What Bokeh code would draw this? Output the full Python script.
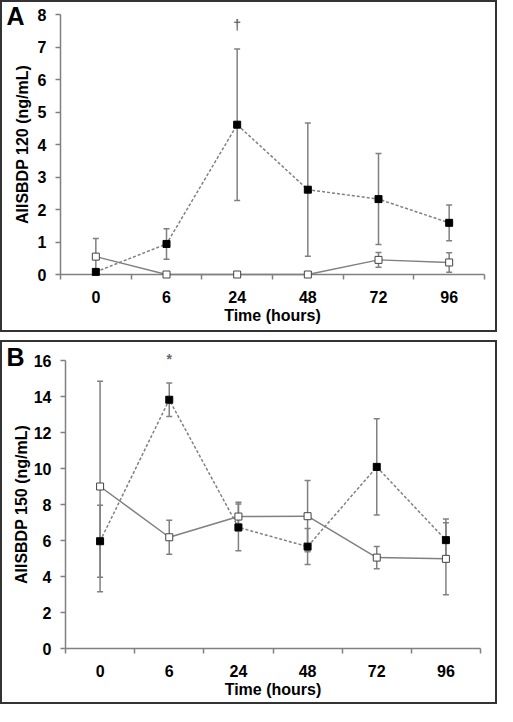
from bokeh.plotting import figure
from bokeh.models import Range1d, FixedTicker, Whisker, TeeHead, ColumnDataSource
from bokeh.layouts import column
from bokeh.embed import file_html
from bokeh.resources import INLINE
from bokeh.core.properties import value

# ---------------- data ----------------
time_labels = ["0", "6", "24", "48", "72", "96"]

# Panel A: AIISBDP 120 (ng/mL)
a_filled = [0.08, 0.94, 4.61, 2.61, 2.32, 1.59]
a_filled_err = [0.0, 0.47, 2.33, 2.05, 1.40, 0.55]
a_open = [0.55, 0.0, 0.0, 0.0, 0.45, 0.37]
a_open_err = [0.56, 0.0, 0.0, 0.0, 0.23, 0.30]

# Panel B: AIISBDP 150 (ng/mL)
b_filled = [5.96, 13.82, 6.73, 5.66, 10.09, 6.02]
b_filled_err = [2.0, 0.93, 1.3, 1.0, 2.68, 1.18]
b_open = [9.0, 6.18, 7.33, 7.35, 5.05, 4.98]
b_open_err = [5.85, 0.95, 0.8, 1.98, 0.62, 2.0]

a_mark = "\u2020"   # dagger at 24 h
a_mark_index = 2
b_mark = "*"        # asterisk at 6 h
b_mark_index = 1

# ---------------- style ----------------
FONT = "Liberation Sans"
GRAY = "#808080"
W = 497


def make_panel(h, left, right, top, zero_y, y_max, y_step, ylabel,
               filled, filled_err, opn, opn_err, ylabel_standoff, xlabel_standoff):
    pxu = (zero_y - top) / y_max
    n = len(time_labels)
    p = figure(width=W, height=h,
               x_range=Range1d(0.5, n + 0.5), y_range=Range1d(0, y_max),
               output_backend="svg", toolbar_location=None,
               min_border_left=left, min_border_right=W - right,
               min_border_top=top, min_border_bottom=int(round(h - zero_y)))
    p.background_fill_color = None
    p.border_fill_color = None
    p.outline_line_color = None
    p.grid.visible = False

    xs = [i + 1 for i in range(n)]

    # x axis: labels at category centres, tick marks at boundaries
    xa = p.xaxis[0]
    xa.ticker = FixedTicker(ticks=xs, minor_ticks=[i + 0.5 for i in range(n + 1)])
    xa.major_label_overrides = {x: lab for x, lab in zip(xs, time_labels)}
    xa.axis_line_color = GRAY
    xa.axis_line_width = 1.5
    xa.major_tick_line_color = None
    xa.major_tick_out = 0
    xa.major_tick_in = 0
    xa.minor_tick_line_color = GRAY
    xa.minor_tick_line_width = 1.5
    xa.minor_tick_out = 5
    xa.minor_tick_in = 0
    xa.major_label_standoff = 11
    xa.major_label_text_font = FONT
    xa.major_label_text_font_style = "bold"
    xa.major_label_text_font_size = "16px"
    xa.major_label_text_color = "black"
    xa.axis_label = "Time (hours)"
    xa.axis_label_text_font = FONT
    xa.axis_label_text_font_style = "bold"
    xa.axis_label_text_font_size = "16px"
    xa.axis_label_text_color = "black"
    xa.axis_label_standoff = xlabel_standoff

    ya = p.yaxis[0]
    ya.ticker = FixedTicker(ticks=list(range(0, int(y_max) + 1, y_step)))
    ya.axis_line_color = GRAY
    ya.axis_line_width = 1.5
    ya.major_tick_line_color = GRAY
    ya.major_tick_line_width = 1.5
    ya.major_tick_out = 5
    ya.major_tick_in = 0
    ya.minor_tick_line_color = None
    ya.major_label_standoff = 9
    ya.major_label_text_font = FONT
    ya.major_label_text_font_style = "bold"
    ya.major_label_text_font_size = "16px"
    ya.major_label_text_color = "black"
    ya.axis_label = ylabel
    ya.axis_label_text_font = FONT
    ya.axis_label_text_font_style = "bold"
    ya.axis_label_text_font_size = "16px"
    ya.axis_label_text_color = "black"
    ya.axis_label_standoff = ylabel_standoff

    head = dict(size=6, line_color=GRAY, line_width=1.5)
    for vals, errs in ((filled, filled_err), (opn, opn_err)):
        src = ColumnDataSource(dict(x=xs,
                                    upper=[v + e for v, e in zip(vals, errs)],
                                    lower=[max(v - e, 0) for v, e in zip(vals, errs)]))
        p.add_layout(Whisker(base="x", upper="upper", lower="lower", source=src,
                             line_color=GRAY, line_width=1.5, level="underlay",
                             upper_head=TeeHead(**head), lower_head=TeeHead(**head)))

    p.line(xs, filled, line_color=GRAY, line_width=1.5, line_dash="3 2", level="overlay")
    p.line(xs, opn, line_color=GRAY, line_width=1.5, level="overlay")
    p.scatter(xs, filled, marker="square", size=7, fill_color="black", line_color="black",
              level="overlay")
    p.scatter(xs, opn, marker="square", size=7, fill_color="white", line_color="#444444",
              line_width=1, level="overlay")

    def to_data(cx, cy):
        return (0.5 + (cx - left) / ((right - left) / n), (zero_y - cy) / pxu)

    return p, to_data


def add_text(p, to_data, cx, cy, text, size, color, baseline="middle"):
    x, y = to_data(cx, cy)
    p.text(x=[x], y=[y], text=[text], text_font=value(FONT), text_font_style="bold",
           text_font_size=size, text_color=color, text_align="center",
           text_baseline=baseline, level="overlay")


def cat_x(left, right, idx):
    return left + (right - left) / len(time_labels) * (idx + 0.5)


# ---------------- panel A ----------------
HA = 332
A_L, A_R, A_T, A_Z = 60, 484, 14, 274.5
pA, toA = make_panel(HA, A_L, A_R, A_T, A_Z, 8, 1, "AIISBDP 120 (ng/mL)",
                     a_filled, a_filled_err, a_open, a_open_err, 4, 1)
add_text(pA, toA, 15, 16, "A", "25px", "black")
add_text(pA, toA, cat_x(A_L, A_R, a_mark_index), 24.5, a_mark, "14px", "#666666",
         baseline="alphabetic")

# ---------------- panel B ----------------
HB = 364
B_L, B_R, B_T, B_Z = 65, 480, 20, 308
pB, toB = make_panel(HB, B_L, B_R, B_T, B_Z, 16, 2, "AIISBDP 150 (ng/mL)",
                     b_filled, b_filled_err, b_open, b_open_err, 1, 1)
add_text(pB, toB, 15, 16, "B", "25px", "black")
add_text(pB, toB, cat_x(B_L, B_R, b_mark_index), 18, b_mark, "14px", "#666666",
         baseline="alphabetic")

box = {"outline": "2px solid #333333", "outline-offset": "-2px", "background-color": "white"}
colA = column(pA, width=W, height=HA, styles=box)
colB = column(pB, width=W, height=HB, styles=box)
root = column(colA, colB, spacing=8)

open("out.html", "w").write(file_html(root, INLINE))
